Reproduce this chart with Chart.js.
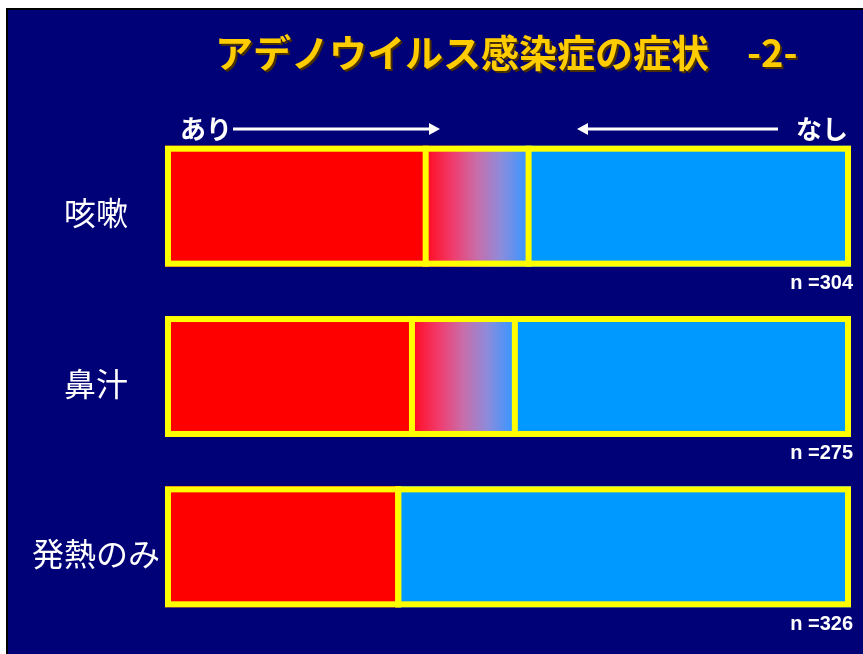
<!DOCTYPE html>
<html lang="ja">
<head>
<meta charset="utf-8">
<title>アデノウイルス感染症の症状 -2-</title>
<script src="https://cdn.jsdelivr.net/npm/chart.js@4/dist/chart.umd.min.js"></script>
<style>
  html, body { margin: 0; padding: 0; background: #fff; overflow: hidden; }
  #slide {
    position: absolute; left: 6px; top: 8px;
    width: 855px; height: 644px;
    border-left: 2px solid #000; border-top: 2px solid #000;
    background: #000077;
  }
  #slide canvas { display: block; }
</style>
</head>
<body>
<div id="slide"><canvas id="chart" width="855" height="644"></canvas></div>
<script>
// ── Data ───────────────────────────────────────────────────
const categories     = ['咳嗽', '鼻汁', '発熱のみ'];
const withSymptom    = [38, 36, 34];   // あり (%)
const unclear        = [15, 15, 0];    // どちらとも言えない (%)
const withoutSymptom = [47, 49, 66];   // なし (%)
const sampleSizes    = [304, 275, 326];

const TITLE  = 'アデノウイルス感染症の症状　-2-';
const YELLOW = '#ffff00';
const RED    = '#ff0000';
const BLUE   = '#0099ff';
const JP     = '"Noto Sans CJK JP", "Noto Sans", sans-serif';
const FRAME  = 6;   // yellow outline / divider width

// red → blue fade for the middle segment, per bar
function fadeFill(ctx) {
  const chart = ctx.chart;
  if (!chart.chartArea || !chart.scales.x) return RED;
  const i = ctx.dataIndex;
  const x = chart.scales.x;
  const x0 = x.getPixelForValue(withSymptom[i]);
  const x1 = x.getPixelForValue(withSymptom[i] + unclear[i]);
  if (x1 - x0 < 1) return RED;
  const g = chart.ctx.createLinearGradient(x0 + FRAME / 2, 0, x1 - FRAME / 2, 0);
  g.addColorStop(0.00, '#ff1028');
  g.addColorStop(0.25, '#f03c6e');
  g.addColorStop(0.50, '#c86eaa');
  g.addColorStop(0.75, '#8c8cdc');
  g.addColorStop(1.00, '#3c96ff');
  return g;
}

// ── Yellow outline round each stacked bar + dividers ───────
const barFrame = {
  id: 'barFrame',
  afterDatasetsDraw(chart) {
    const { ctx } = chart;
    const metas = [0, 1, 2].map(d => chart.getDatasetMeta(d).data);
    ctx.save();
    ctx.strokeStyle = YELLOW;
    ctx.lineWidth = FRAME;
    categories.forEach((_, i) => {
      const first = metas[0][i], last = metas[2][i];
      const left = first.base, right = last.x;
      const top = first.y - first.height / 2, bottom = first.y + first.height / 2;
      ctx.strokeRect(left + FRAME / 2, top + FRAME / 2, right - left - FRAME, bottom - top - FRAME);
      [metas[0][i].x, metas[1][i].x].forEach(bx => {
        ctx.beginPath();
        ctx.moveTo(bx, top);
        ctx.lineTo(bx, bottom);
        ctx.stroke();
      });
    });
    ctx.restore();
  }
};

// ── Slide text: title, arrows, n= ──────────────────────────
const slideText = {
  id: 'slideText',
  afterDraw(chart) {
    const { ctx, chartArea: a } = chart;
    ctx.save();

    // title with dark drop shadow
    ctx.font = `bold 38px ${JP}`;
    ctx.textAlign = 'left';
    ctx.textBaseline = 'middle';
    const tx = a.left + 50;
    const ty = 43;
    ctx.fillStyle = '#4a3000';
    ctx.fillText(TITLE, tx + 2, ty + 2);
    ctx.fillStyle = '#ffcc00';
    ctx.fillText(TITLE, tx, ty);

    // あり →      ← なし
    const ay = 119;
    ctx.font = `bold 26px ${JP}`;
    ctx.fillStyle = '#fff';
    ctx.textAlign = 'left';
    ctx.fillText('あり', a.left + 15, ay);
    ctx.textAlign = 'right';
    ctx.fillText('なし', a.right - 3, ay);

    ctx.strokeStyle = '#fff';
    ctx.lineWidth = 3;
    const arrow = (from, to) => {
      const dir = Math.sign(to - from);
      ctx.beginPath();
      ctx.moveTo(from, ay);
      ctx.lineTo(to - dir * 8, ay);
      ctx.stroke();
      ctx.beginPath();
      ctx.moveTo(to, ay);
      ctx.lineTo(to - dir * 11, ay - 6);
      ctx.lineTo(to - dir * 11, ay + 6);
      ctx.closePath();
      ctx.fill();
    };
    arrow(a.left + 68, a.left + 275);
    arrow(a.right - 73, a.right - 274);

    // sample sizes under each bar
    ctx.font = 'bold 20px "Liberation Sans", Arial, sans-serif';
    ctx.textAlign = 'right';
    const meta = chart.getDatasetMeta(2);
    meta.data.forEach((bar, i) => {
      ctx.fillText('n =' + sampleSizes[i], bar.x + 2, bar.y + bar.height / 2 + 17);
    });

    ctx.restore();
  }
};

// ── Chart ──────────────────────────────────────────────────
new Chart(document.getElementById('chart'), {
  type: 'bar',
  data: {
    labels: categories,
    datasets: [
      { label: 'あり', data: withSymptom,    backgroundColor: RED },
      { label: '不明', data: unclear,        backgroundColor: fadeFill },
      { label: 'なし', data: withoutSymptom, backgroundColor: BLUE },
    ],
  },
  options: {
    indexAxis: 'y',
    responsive: false,
    animation: false,
    datasets: {
      bar: {
        borderWidth: 0,
        inflateAmount: 0,
        barPercentage: 0.71,
        categoryPercentage: 1,
      },
    },
    layout: { padding: { top: 111, bottom: 22, left: 0, right: 12 } },
    scales: {
      x: { stacked: true, min: 0, max: 100, display: false },
      y: {
        stacked: true,
        grid: { display: false, drawTicks: false },
        border: { display: false },
        afterFit: s => {
          s.width = 157;
          s.paddingTop = 0;
          s.paddingBottom = 0;
        },
        ticks: {
          color: '#fff',
          font: { family: JP, size: 32 },
          crossAlign: 'center',
          padding: 5,
          labelOffset: 7,
        },
      },
    },
    plugins: {
      legend: { display: false },
      tooltip: { enabled: false },
    },
  },
  plugins: [barFrame, slideText],
});
</script>
</body>
</html>
